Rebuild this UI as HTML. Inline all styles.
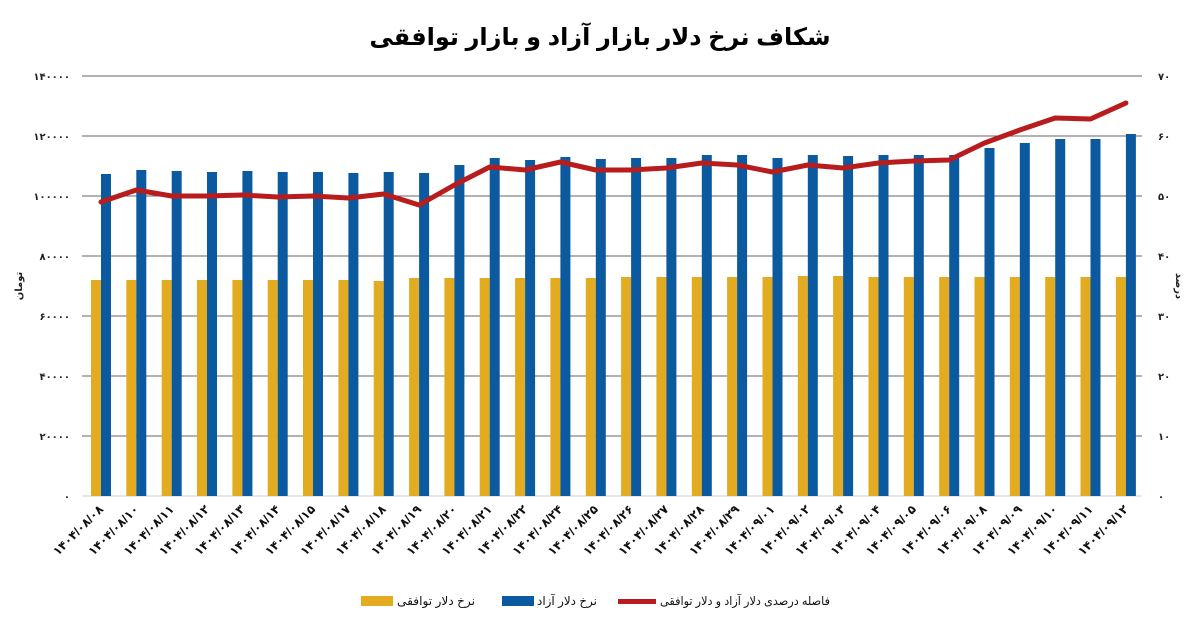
<!DOCTYPE html>
<html><head><meta charset="utf-8"><style>
body{margin:0;background:#fff;}
svg{display:block;font-family:"Liberation Sans","DejaVu Sans",sans-serif;}
.t{font-size:10px;fill:#222;font-weight:bold;}
.xl{font-size:12px;font-weight:bold;fill:#111;}
</style></head><body>
<svg width="1197" height="624" viewBox="0 0 1197 624">
<text x="600" y="45" text-anchor="middle" font-size="24" font-weight="bold" fill="#000">شکاف نرخ دلار بازار آزاد و بازار توافقی</text>
<g stroke="#666" stroke-width="1">
<line x1="82" y1="76" x2="1142" y2="76"/><line x1="82" y1="136" x2="1142" y2="136"/><line x1="82" y1="196" x2="1142" y2="196"/><line x1="82" y1="256" x2="1142" y2="256"/><line x1="82" y1="316" x2="1142" y2="316"/><line x1="82" y1="376" x2="1142" y2="376"/><line x1="82" y1="436" x2="1142" y2="436"/>
</g>
<line x1="82" y1="496" x2="1142" y2="496" stroke="#ccc"/>
<g class="t" text-anchor="end">
<text x="70" y="80">۱۴۰۰۰۰</text><text x="70" y="140">۱۲۰۰۰۰</text><text x="70" y="200">۱۰۰۰۰۰</text><text x="70" y="260">۸۰۰۰۰</text><text x="70" y="320">۶۰۰۰۰</text><text x="70" y="380">۴۰۰۰۰</text><text x="70" y="440">۲۰۰۰۰</text><text x="70" y="500">۰</text>
</g>
<g class="t">
<text x="1158" y="80">۷۰</text><text x="1158" y="140">۶۰</text><text x="1158" y="200">۵۰</text><text x="1158" y="260">۴۰</text><text x="1158" y="320">۳۰</text><text x="1158" y="380">۲۰</text><text x="1158" y="440">۱۰</text><text x="1158" y="500">۰</text>
</g>
<text transform="translate(22,286) rotate(-90)" class="t" text-anchor="middle">تومان</text>
<text transform="translate(1176,286) rotate(90)" class="t" text-anchor="middle">درصد</text>
<g fill="#e3ab1f">
<rect x="91" y="280" width="10" height="216"/><rect x="126.3" y="280" width="10" height="216"/><rect x="161.7" y="280" width="10" height="216"/><rect x="197" y="280" width="10" height="216"/><rect x="232.4" y="280" width="10" height="216"/><rect x="267.7" y="280" width="10" height="216"/><rect x="303" y="280" width="10" height="216"/><rect x="338.4" y="280" width="10" height="216"/><rect x="373.7" y="281" width="10" height="215"/><rect x="409.1" y="278" width="10" height="218"/><rect x="444.4" y="278" width="10" height="218"/><rect x="479.7" y="278" width="10" height="218"/><rect x="515.1" y="278" width="10" height="218"/><rect x="550.4" y="278" width="10" height="218"/><rect x="585.8" y="278" width="10" height="218"/><rect x="621.1" y="277" width="10" height="219"/><rect x="656.4" y="277" width="10" height="219"/><rect x="691.8" y="277" width="10" height="219"/><rect x="727.1" y="277" width="10" height="219"/><rect x="762.5" y="277" width="10" height="219"/><rect x="797.8" y="276" width="10" height="220"/><rect x="833.1" y="276" width="10" height="220"/><rect x="868.5" y="277" width="10" height="219"/><rect x="903.8" y="277" width="10" height="219"/><rect x="939.2" y="277" width="10" height="219"/><rect x="974.5" y="277" width="10" height="219"/><rect x="1009.8" y="277" width="10" height="219"/><rect x="1045.2" y="277" width="10" height="219"/><rect x="1080.5" y="277" width="10" height="219"/><rect x="1115.9" y="277" width="10" height="219"/>
</g>
<g fill="#0b5aa0">
<rect x="101" y="174" width="10" height="322"/><rect x="136.3" y="170" width="10" height="326"/><rect x="171.7" y="171" width="10" height="325"/><rect x="207" y="172" width="10" height="324"/><rect x="242.4" y="171" width="10" height="325"/><rect x="277.7" y="172" width="10" height="324"/><rect x="313" y="172" width="10" height="324"/><rect x="348.4" y="173" width="10" height="323"/><rect x="383.7" y="172" width="10" height="324"/><rect x="419.1" y="173" width="10" height="323"/><rect x="454.4" y="165" width="10" height="331"/><rect x="489.7" y="158" width="10" height="338"/><rect x="525.1" y="160" width="10" height="336"/><rect x="560.4" y="157" width="10" height="339"/><rect x="595.8" y="159" width="10" height="337"/><rect x="631.1" y="158" width="10" height="338"/><rect x="666.4" y="158" width="10" height="338"/><rect x="701.8" y="155" width="10" height="341"/><rect x="737.1" y="155" width="10" height="341"/><rect x="772.5" y="158" width="10" height="338"/><rect x="807.8" y="155" width="10" height="341"/><rect x="843.1" y="156" width="10" height="340"/><rect x="878.5" y="155" width="10" height="341"/><rect x="913.8" y="155" width="10" height="341"/><rect x="949.2" y="155" width="10" height="341"/><rect x="984.5" y="148" width="10" height="348"/><rect x="1019.8" y="143" width="10" height="353"/><rect x="1055.2" y="139" width="10" height="357"/><rect x="1090.5" y="139" width="10" height="357"/><rect x="1125.9" y="134" width="10" height="362"/>
</g>
<polyline fill="none" stroke="#b81c1c" stroke-width="5" stroke-linejoin="round" stroke-linecap="round" points="101,202 136.3,190 171.7,196 207,196 242.4,195 277.7,197 313,196 348.4,198 383.7,194 419.1,205 454.4,185 489.7,167 525.1,170 560.4,162 595.8,170 631.1,170 666.4,168 701.8,163 737.1,165 772.5,172 807.8,165 843.1,168 878.5,163 913.8,161 949.2,160 984.5,143 1019.8,130 1055.2,118 1090.5,119 1125.9,103"/>
<g class="xl" text-anchor="end">
<text transform="translate(104,510) rotate(-45)">۱۴۰۴/۰۸/۰۸</text>
<text transform="translate(139.3,510) rotate(-45)">۱۴۰۴/۰۸/۱۰</text>
<text transform="translate(174.7,510) rotate(-45)">۱۴۰۴/۰۸/۱۱</text>
<text transform="translate(210,510) rotate(-45)">۱۴۰۴/۰۸/۱۲</text>
<text transform="translate(245.4,510) rotate(-45)">۱۴۰۴/۰۸/۱۳</text>
<text transform="translate(280.7,510) rotate(-45)">۱۴۰۴/۰۸/۱۴</text>
<text transform="translate(316,510) rotate(-45)">۱۴۰۴/۰۸/۱۵</text>
<text transform="translate(351.4,510) rotate(-45)">۱۴۰۴/۰۸/۱۷</text>
<text transform="translate(386.7,510) rotate(-45)">۱۴۰۴/۰۸/۱۸</text>
<text transform="translate(422.1,510) rotate(-45)">۱۴۰۴/۰۸/۱۹</text>
<text transform="translate(457.4,510) rotate(-45)">۱۴۰۴/۰۸/۲۰</text>
<text transform="translate(492.7,510) rotate(-45)">۱۴۰۴/۰۸/۲۱</text>
<text transform="translate(528.1,510) rotate(-45)">۱۴۰۴/۰۸/۲۲</text>
<text transform="translate(563.4,510) rotate(-45)">۱۴۰۴/۰۸/۲۴</text>
<text transform="translate(598.8,510) rotate(-45)">۱۴۰۴/۰۸/۲۵</text>
<text transform="translate(634.1,510) rotate(-45)">۱۴۰۴/۰۸/۲۶</text>
<text transform="translate(669.4,510) rotate(-45)">۱۴۰۴/۰۸/۲۷</text>
<text transform="translate(704.8,510) rotate(-45)">۱۴۰۴/۰۸/۲۸</text>
<text transform="translate(740.1,510) rotate(-45)">۱۴۰۴/۰۸/۲۹</text>
<text transform="translate(775.5,510) rotate(-45)">۱۴۰۴/۰۹/۰۱</text>
<text transform="translate(810.8,510) rotate(-45)">۱۴۰۴/۰۹/۰۲</text>
<text transform="translate(846.1,510) rotate(-45)">۱۴۰۴/۰۹/۰۳</text>
<text transform="translate(881.5,510) rotate(-45)">۱۴۰۴/۰۹/۰۴</text>
<text transform="translate(916.8,510) rotate(-45)">۱۴۰۴/۰۹/۰۵</text>
<text transform="translate(952.2,510) rotate(-45)">۱۴۰۴/۰۹/۰۶</text>
<text transform="translate(987.5,510) rotate(-45)">۱۴۰۴/۰۹/۰۸</text>
<text transform="translate(1022.8,510) rotate(-45)">۱۴۰۴/۰۹/۰۹</text>
<text transform="translate(1058.2,510) rotate(-45)">۱۴۰۴/۰۹/۱۰</text>
<text transform="translate(1093.5,510) rotate(-45)">۱۴۰۴/۰۹/۱۱</text>
<text transform="translate(1128.9,510) rotate(-45)">۱۴۰۴/۰۹/۱۲</text>
</g>
<rect x="361" y="596" width="32" height="10" fill="#e3ab1f"/>
<text x="475" y="605" font-size="12" text-anchor="start" direction="rtl" fill="#111" textLength="78" lengthAdjust="spacingAndGlyphs">نرخ دلار توافقی</text>
<rect x="502" y="596" width="32" height="10" fill="#0b5aa0"/>
<text x="597" y="605" font-size="12" text-anchor="start" direction="rtl" fill="#111" textLength="60" lengthAdjust="spacingAndGlyphs">نرخ دلار آزاد</text>
<rect x="618" y="599" width="38" height="5" fill="#b81c1c"/>
<text x="830" y="605" font-size="12" text-anchor="start" direction="rtl" fill="#111" textLength="170" lengthAdjust="spacingAndGlyphs">فاصله درصدی دلار آزاد و دلار توافقی</text>
</svg>
</body></html>
